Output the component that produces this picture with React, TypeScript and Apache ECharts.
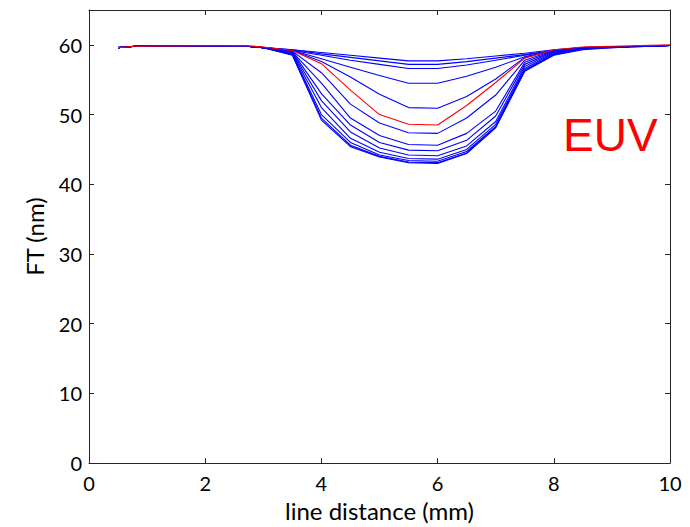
import React, { useEffect, useRef } from "react";
import * as echarts from "echarts";

const xs = [0.5, 0.8, 2.7, 3.0, 3.5, 4.0, 4.5, 5.0, 5.5, 6.0, 6.5, 7.0, 7.5, 8.0, 8.5, 9.0, 10.0];

const blue1 = [59.6, 59.8, 59.8, 59.6, 59.3, 58.9, 58.5, 58.1, 57.7, 57.7, 58.0, 58.4, 58.8, 59.3, 59.6, 59.7, 59.9];
const blue2 = [59.6, 59.8, 59.8, 59.6, 59.3, 58.7, 58.2, 57.7, 57.2, 57.2, 57.6, 58.1, 58.6, 59.2, 59.6, 59.7, 59.9];
const blue3 = [59.6, 59.8, 59.8, 59.6, 59.2, 58.5, 57.8, 57.2, 56.6, 56.6, 57.1, 57.8, 58.5, 59.2, 59.6, 59.7, 59.9];
const blue4 = [59.6, 59.8, 59.8, 59.6, 59.2, 58.0, 56.8, 55.6, 54.5, 54.5, 55.5, 56.8, 58.3, 59.2, 59.6, 59.7, 59.9];
const blue5 = [59.6, 59.8, 59.8, 59.6, 59.2, 57.6, 55.4, 52.9, 51.0, 50.9, 52.6, 55.1, 58.2, 59.2, 59.6, 59.7, 59.9];
const red1 = [59.6, 59.8, 59.9, 59.7, 59.2, 57.3, 53.5, 50.0, 48.6, 48.5, 51.3, 54.6, 58.1, 59.3, 59.7, 59.8, 60.0];
const blue6 = [59.6, 59.8, 59.8, 59.6, 59.1, 56.0, 51.5, 48.8, 47.4, 47.3, 49.5, 52.8, 57.8, 59.2, 59.6, 59.7, 59.9];
const blue7 = [59.6, 59.8, 59.8, 59.6, 59.0, 54.5, 49.5, 47.0, 45.7, 45.6, 47.3, 50.5, 57.5, 59.1, 59.6, 59.7, 59.9];
const blue8 = [59.6, 59.8, 59.8, 59.6, 59.0, 53.0, 48.5, 46.0, 44.9, 44.8, 46.3, 49.8, 57.2, 59.0, 59.5, 59.7, 59.9];
const blue9 = [59.6, 59.8, 59.8, 59.6, 58.9, 52.0, 47.5, 45.2, 44.2, 44.1, 45.5, 49.0, 56.9, 58.9, 59.5, 59.7, 59.9];
const blue10 = [59.6, 59.8, 59.8, 59.6, 58.8, 51.0, 46.6, 44.6, 43.7, 43.6, 45.0, 48.6, 56.6, 58.8, 59.5, 59.7, 59.9];
const blue11 = [59.6, 59.8, 59.8, 59.6, 58.7, 50.0, 46.0, 44.2, 43.4, 43.3, 44.7, 48.3, 56.4, 58.7, 59.4, 59.7, 59.9];
const blue12 = [59.6, 59.8, 59.8, 59.6, 58.6, 49.5, 45.6, 44.0, 43.2, 43.1, 44.5, 48.2, 56.3, 58.6, 59.4, 59.6, 59.9];
const blue13 = [59.6, 59.8, 59.8, 59.6, 58.5, 49.2, 45.4, 43.9, 43.1, 43.0, 44.4, 48.1, 56.2, 58.5, 59.3, 59.6, 59.9];

const blueSeries = [blue1, blue2, blue3, blue4, blue5, blue6, blue7, blue8, blue9, blue10, blue11, blue12, blue13];

const AXIS_COLOR = "#262626";
const FONT = "Lato, 'DejaVu Sans', sans-serif";

export default function App() {
  const ref = useRef<HTMLDivElement>(null);
  useEffect(() => {
    if (!ref.current) return;
    const chart = echarts.init(ref.current, undefined, { renderer: "svg" });
    const pair = (ys: number[]) => xs.map((x, i) => [x, ys[i]]);
    const series: any[] = blueSeries.map((ys) => ({
      type: "line",
      data: pair(ys),
      symbol: "none",
      lineStyle: { color: "#0000ff", width: 1.1 },
      xAxisIndex: 0,
      yAxisIndex: 0,
      silent: true,
    }));
    series.push({
      type: "line",
      data: pair(red1),
      symbol: "none",
      lineStyle: { color: "#ff0000", width: 1.1 },
      xAxisIndex: 0,
      yAxisIndex: 0,
      silent: true,
      z: 3,
    });
    const axisCommon = {
      type: "value",
      axisLine: { show: true, onZero: false, lineStyle: { color: AXIS_COLOR, width: 1 } },
      axisTick: { show: true, inside: true, length: 5, lineStyle: { color: AXIS_COLOR } },
      splitLine: { show: false },
    };
    chart.setOption({
      animation: false,
      backgroundColor: "#ffffff",
      grid: { left: 89, right: 20, top: 10, bottom: 60, containLabel: false },
      xAxis: [
        {
          ...axisCommon,
          position: "bottom",
          min: 0,
          max: 10,
          interval: 2,
          axisLabel: { color: "#000", fontSize: 20, fontFamily: FONT, margin: 10 },
          name: "line distance (mm)",
          nameLocation: "middle",
          nameGap: 32,
          nameTextStyle: { color: "#000", fontSize: 24, fontFamily: FONT },
        },
        {
          ...axisCommon,
          position: "top",
          min: 0,
          max: 10,
          interval: 2,
          axisLabel: { show: false },
        },
      ],
      yAxis: [
        {
          ...axisCommon,
          position: "left",
          min: 0,
          max: 65,
          interval: 10,
          axisLabel: { color: "#000", fontSize: 20, fontFamily: FONT, margin: 7, showMaxLabel: false },
          name: "FT (nm)",
          nameLocation: "middle",
          nameGap: 43,
          nameTextStyle: { color: "#000", fontSize: 24, fontFamily: FONT },
        },
        {
          ...axisCommon,
          position: "right",
          min: 0,
          max: 65,
          interval: 10,
          axisLabel: { show: false },
        },
      ],
      graphic: [
        {
          type: "text",
          left: 563,
          top: 112,
          style: {
            text: "EUV",
            fill: "#ff0000",
            font: "46px 'Liberation Sans', Arial, sans-serif",
          },
        },
      ],
      series,
    });
    return () => chart.dispose();
  }, []);
  return <div ref={ref} style={{ width: 690, height: 527, position: "absolute", left: 0, top: 0 }} />;
}
